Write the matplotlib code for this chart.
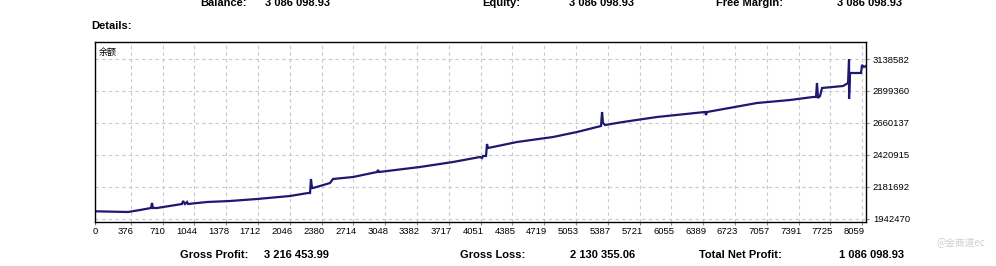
import matplotlib
matplotlib.use("Agg")
import matplotlib.pyplot as plt
import matplotlib.transforms as mtransforms

plt.rcParams['font.family'] = ['Liberation Sans', 'Noto Sans CJK SC', 'DejaVu Sans']

# balance curve (trade number, balance)
trades = [0, 347, 473, 588, 599, 609, 651, 914, 925, 946, 967, 977, 1177, 1418,
          1702, 2049, 2238, 2259, 2269, 2280, 2290, 2364, 2469, 2500, 2711, 2963,
          2973, 2984, 3414, 3761, 4045, 4066, 4076, 4108, 4118, 4129, 4181, 4434,
          4812, 5064, 5274, 5316, 5327, 5337, 5358, 5547, 5904, 6409, 6419, 6430,
          6955, 7302, 7543, 7575, 7585, 7596, 7617, 7638, 7859, 7912, 7922, 7922,
          7932, 8048, 8058, 8079, 8100]
balance = [2000000, 1994800, 2009750, 2024700, 2062080, 2024700, 2024700, 2054600,
           2077030, 2054600, 2069550, 2054600, 2069550, 2077030, 2091980, 2114410,
           2136840, 2136840, 2241500, 2174210, 2174210, 2189170, 2211600, 2241500,
           2256450, 2293830, 2308780, 2293830, 2331200, 2368580, 2405960, 2398480,
           2413440, 2413440, 2503150, 2473250, 2480720, 2518100, 2555480, 2592860,
           2630240, 2637710, 2742370, 2660140, 2645190, 2667610, 2704990, 2742370,
           2719940, 2742370, 2809650, 2832060, 2854520, 2854520, 2959130, 2847050,
           2861970, 2921810, 2936730, 2959130, 3138580, 2839550, 3033910, 3033910,
           3093700, 3078740, 3086100]

xtick_vals = [0, 376, 710, 1044, 1378, 1712, 2046, 2380, 2714, 3048, 3382, 3717,
              4051, 4385, 4719, 5053, 5387, 5721, 6055, 6389, 6723, 7057, 7391,
              7725, 8059]
ytick_vals = [1942470, 2181692, 2420915, 2660137, 2899360, 3138582]

top_labels = ["Balance:", "Equity:", "Free Margin:"]
top_values = ["3 086 098.93", "3 086 098.93", "3 086 098.93"]
bottom_labels = ["Gross Profit:", "Gross Loss:", "Total Net Profit:"]
bottom_values = ["3 216 453.99", "2 130 355.06", "1 086 098.93"]

W, H = 996, 266
fig = plt.figure(figsize=(W / 100, H / 100), dpi=100)
fig.patch.set_facecolor("white")

ax = fig.add_axes([95 / W, 44 / H, 771 / W, 180 / H])
ax.plot(trades, balance, color="#1e1870", lw=1.6, solid_joinstyle="miter")
ax.set_xlim(0, 8100)
ax.set_ylim(1920040, 3265670)

ax.set_xticks(xtick_vals)
ax.set_xticklabels([str(v) for v in xtick_vals])
ax.set_yticks(ytick_vals)
ax.set_yticklabels([str(v) for v in ytick_vals])
ax.yaxis.tick_right()
ax.tick_params(axis="x", length=2, pad=1.5, labelsize=6.8, color="#888888")
ax.tick_params(axis="y", length=2, pad=3, labelsize=6.8, color="#888888")

off = mtransforms.ScaledTranslation(3 / 100, 0, fig.dpi_scale_trans)
for lab in ax.get_xticklabels():
    lab.set_ha("right")
    lab.set_transform(lab.get_transform() + off)

ax.grid(True, color="#c8c8c8", lw=0.8, linestyle=(0, (3, 3)))
for sp in ax.spines.values():
    sp.set_linewidth(1.0)
    sp.set_color("black")

ax.text(0.005, 0.97, "余额", transform=ax.transAxes, fontsize=6.5,
        family=["Noto Sans CJK SC", "DejaVu Sans"], va="top", ha="left")

# header / footer texts
fig.text(91 / W, 1 - 29 / H, "Details:", fontsize=8, fontweight="bold", va="baseline")

top_lx = [200, 482, 716]
top_vx = [265, 569, 837]
for i in range(3):
    fig.text(top_lx[i] / W, 1 - 5.5 / H, top_labels[i], fontsize=8, fontweight="bold", va="baseline")
    fig.text(top_vx[i] / W, 1 - 5.5 / H, top_values[i], fontsize=8, fontweight="bold", va="baseline")

bot_lx = [180, 460, 699]
bot_vx = [264, 570, 839]
for i in range(3):
    fig.text(bot_lx[i] / W, 1 - 258 / H, bottom_labels[i], fontsize=8, fontweight="bold", va="baseline")
    fig.text(bot_vx[i] / W, 1 - 258 / H, bottom_values[i], fontsize=8, fontweight="bold", va="baseline")

fig.text(936 / W, 1 - 243 / H, "@金商道ec", fontsize=7, color="#cfcfcf",
         family=["Noto Sans CJK SC", "DejaVu Sans"], va="center")

fig.savefig("out.png", dpi=100, facecolor="white")
